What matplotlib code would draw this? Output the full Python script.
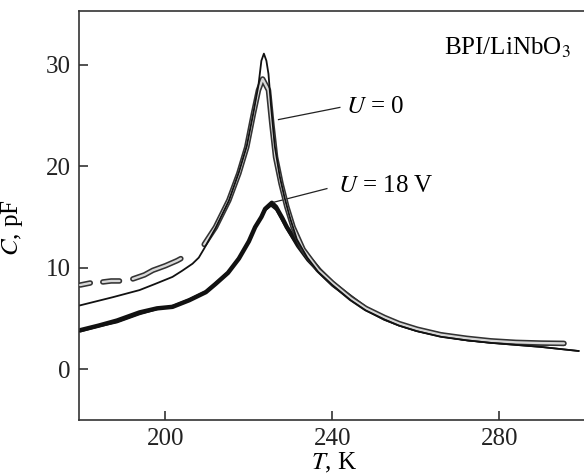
import numpy as np
import matplotlib
matplotlib.use("Agg")
import matplotlib.pyplot as plt

plt.rcParams.update({
    "font.family": "Liberation Serif", "font.size": 18,
    "mathtext.fontset": "stix",
    "axes.linewidth": 1.2, "axes.edgecolor": "#333333",
    "xtick.direction": "in", "ytick.direction": "in",
    "xtick.major.size": 6.5, "ytick.major.size": 6.5,
    "xtick.major.width": 1.1, "ytick.major.width": 1.1,
})
nan = np.nan

# U = 0, measured (circles), NaN = gaps in the record
t_dat0 = [179.6, 182.0, nan, 185.0, 187.0, 189.0, nan,
          192.2, 195.0, 197.0, 200.0, 202.8, 203.7, nan,
          209.3, 212.0, 215.2, 217.6, 219.5, 221.1, 222.3, 223.3,
          224.7, 225.5, 226.4, 227.7, 229.1, 230.6, 233.0, 236.6,
          240.0, 244.4, 248.0, 252.5, 256.0, 260.3, 266.0, 272.2,
          278.0, 284.0, 290.0, 295.5]
c_dat0 = [8.3, 8.5, nan, 8.6, 8.7, 8.7, nan,
          8.9, 9.3, 9.75, 10.2, 10.7, 10.9, nan,
          12.3, 14.0, 16.65, 19.3, 21.9, 25.2, 27.5, 28.6,
          27.5, 24.2, 20.9, 18.3, 16.0, 14.0, 11.8, 9.8,
          8.5, 7.0, 6.0, 5.1, 4.5, 3.95, 3.4, 3.05,
          2.8, 2.65, 2.58, 2.55]

# U = 0, fit
t_fit0 = [179.6, 187.4, 193.8, 197.5, 201.7, 204.0, 206.5, 208.0, 209.3,
          212.0, 215.2, 217.6, 219.5, 221.1, 222.3, 223.0, 223.6, 224.2,
          224.7, 225.3, 226.2, 227.4, 228.5, 229.8, 231.5, 234.0, 236.6,
          240.0, 244.4, 248.0, 252.5, 256.0, 260.3, 266.0, 272.2, 278.0,
          284.0, 290.0, 299.0]
c_fit0 = [6.3, 7.1, 7.8, 8.4, 9.1, 9.7, 10.4, 11.0, 11.9,
          13.9, 16.6, 19.4, 22.0, 25.3, 28.0, 30.4, 31.1, 30.4,
          29.1, 26.0, 22.0, 19.0, 17.0, 15.0, 12.8, 11.0, 9.6,
          8.3, 6.8, 5.8, 4.9, 4.3, 3.75, 3.2, 2.85, 2.6,
          2.4, 2.2, 1.8]

# U = 18 V, measured
t_dat18 = [179.6, 184.0, 188.4, 193.8, 198.0, 201.7, 205.7, 209.7, 212.0,
           215.0, 217.6, 220.0, 221.5, 223.0, 223.9, 225.5, 226.5, 228.0,
           229.1, 231.0, 233.0, 237.0, 240.0, 243.3, 248.0, 252.5, 256.0,
           260.3, 266.0, 272.2, 278.0, 284.0, 290.0, 295.5]
c_dat18 = [3.85, 4.3, 4.8, 5.6, 6.0, 6.15, 6.8, 7.6, 8.4,
           9.5, 10.9, 12.6, 14.0, 15.0, 15.8, 16.4, 16.0, 14.9,
           14.0, 12.8, 11.7, 9.75, 8.5, 7.45, 6.0, 5.0, 4.45,
           3.9, 3.4, 3.0, 2.78, 2.62, 2.55, 2.5]

# U = 18 V, fit
t_fit18 = [179.6, 184.0, 188.4, 193.8, 198.0, 202.0, 205.7, 209.7, 212.0,
           215.0, 217.6, 220.0, 222.0, 223.8, 225.3, 226.5, 228.0, 229.5,
           231.5, 234.0, 237.0, 240.0, 244.0, 250.0, 256.0, 260.3, 266.0,
           272.2, 278.0, 284.0, 290.0, 299.0]
c_fit18 = [3.7, 4.2, 4.6, 5.4, 5.9, 6.3, 6.9, 7.7, 8.5,
           9.6, 11.0, 12.7, 14.4, 15.6, 16.1, 15.7, 14.6, 13.5,
           12.1, 10.7, 9.4, 8.2, 7.0, 5.5, 4.4, 3.8, 3.25,
           2.85, 2.6, 2.4, 2.2, 1.8]

fig = plt.figure(figsize=(5.84, 4.76), dpi=100)
ax = fig.add_axes([79 / 584, 1 - 420 / 476, 1 - 79 / 584 + 0.01, 409 / 476])

ax.plot(t_dat18, c_dat18, color="#111111", lw=3.2, solid_capstyle="round",
        solid_joinstyle="round", zorder=2)
ax.plot(t_fit18, c_fit18, color="#111111", lw=1.2, zorder=3)
ax.plot(t_dat0, c_dat0, color="#333333", lw=4.0, solid_capstyle="round",
        solid_joinstyle="round", zorder=4)
ax.plot(t_dat0, c_dat0, color="#d8d8d8", lw=1.7, solid_capstyle="round",
        solid_joinstyle="round", zorder=5)
ax.plot(t_fit0, c_fit0, color="#111111", lw=1.3, zorder=6)

ax.plot([227.1, 241.8], [24.6, 25.8], color="#222222", lw=0.9)
ax.text(243.2, 25.8, "$U$ = 0", va="center", ha="left")
ax.plot([225.9, 238.7], [16.45, 17.8], color="#222222", lw=0.9)
ax.text(241.3, 18.1, "$U$ = 18 V", va="center", ha="left")
ax.text(266.7, 31.7, "BPI/LiNbO$_3$", va="center", ha="left")

ax.set_xlim(179.3, 301.7)
ax.set_ylim(-5, 35.3)
ax.set_xticks([200, 240, 280])
ax.set_yticks([0, 10, 20, 30])
ax.spines["right"].set_visible(False)
ax.tick_params(colors="#222222", pad=6)
ax.set_xlabel("$T$, K", labelpad=0.5)
ax.set_ylabel("$C$, pF")
ax.yaxis.set_label_coords(-0.105, 0.47)

fig.savefig("out.png", dpi=100)
